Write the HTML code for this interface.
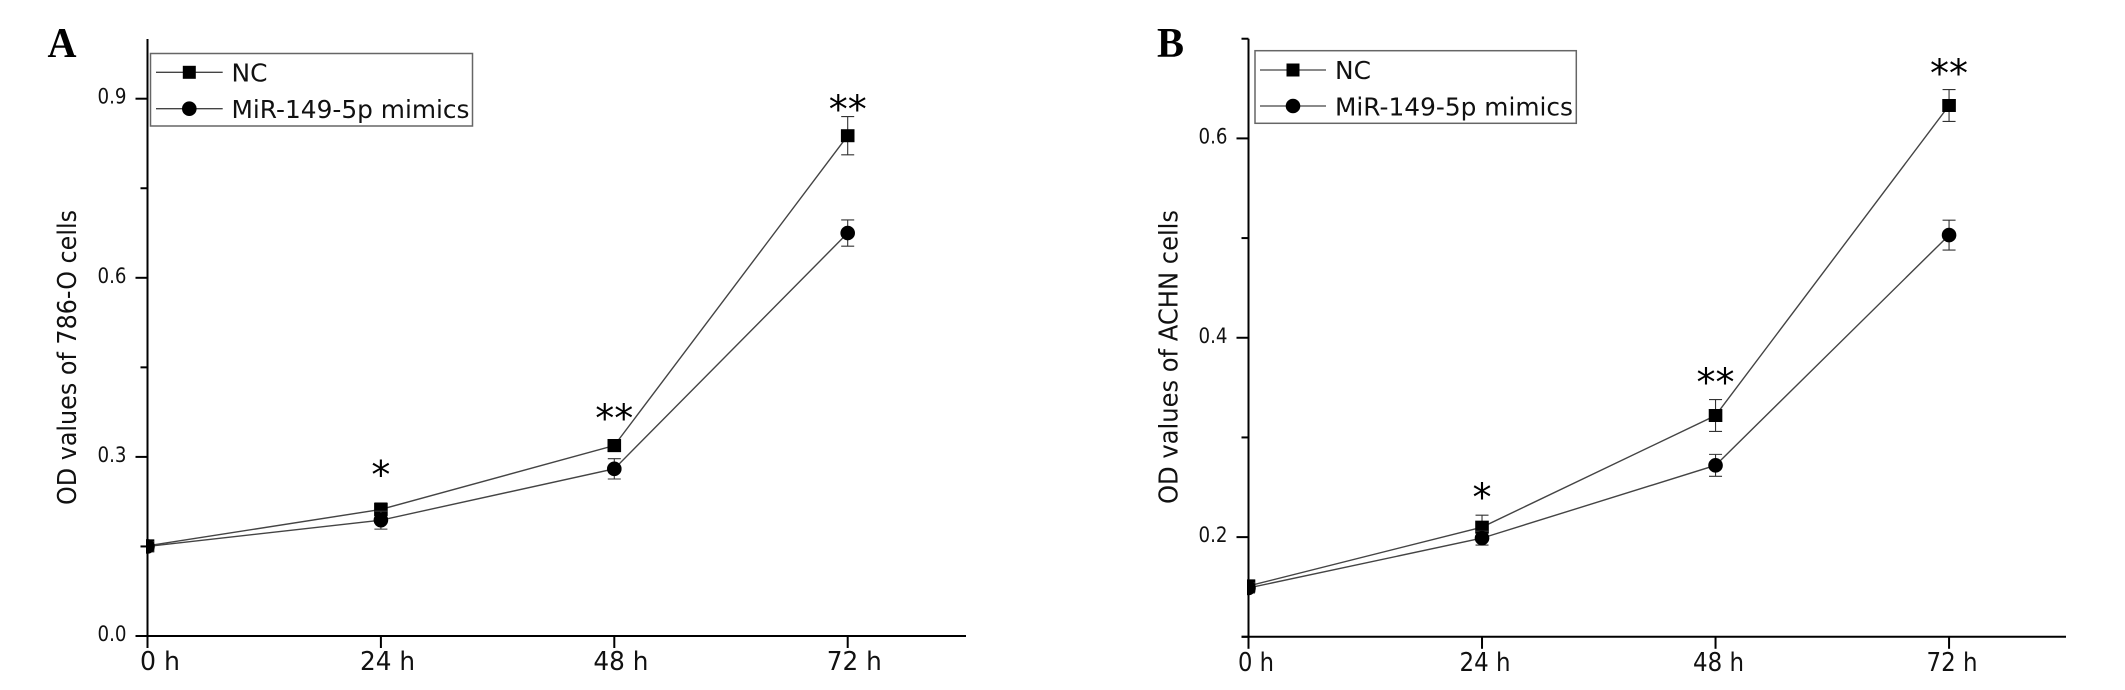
<!DOCTYPE html>
<html lang="en">
<head>
<meta charset="utf-8">
<title>OD values of 786-O and ACHN cells</title>
<style>
  html, body { margin: 0; padding: 0; background: #fff; }
  body { width: 2125px; height: 690px; overflow: hidden; }
  svg { display: block; }
  text { font-family: "DejaVu Sans", "Liberation Sans", sans-serif; fill: #111; }
</style>
</head>
<body>
<svg id="figure" xmlns="http://www.w3.org/2000/svg" width="2125" height="690" viewBox="0 0 2125 690">
  <rect x="0" y="0" width="2125" height="690" fill="#fff"/>
  <defs>
    <clipPath id="clip-a"><rect x="146" y="0" width="900" height="690"/></clipPath>
    <clipPath id="clip-b"><rect x="1247" y="0" width="878" height="690"/></clipPath>
  </defs>

  <g id="panel-a">
    <text x="47.5" y="57" textLength="29" lengthAdjust="spacingAndGlyphs" style="font-family:'Liberation Serif',serif;font-weight:bold;font-size:42px;fill:#000">A</text>
    <text transform="translate(76 357.5) rotate(-90)" text-anchor="middle" textLength="295" lengthAdjust="spacingAndGlyphs" style="font-size:26px">OD values of 786-O cells</text>
    <g id="plot-a"></g>
    <g>
      <rect x="150.5" y="53.5" width="322" height="72.5" fill="none" stroke="#666" stroke-width="1.5"/>
      <line x1="156" x2="222.7" y1="72.3" y2="72.3" stroke="#444" stroke-width="1.3"/>
      <rect x="182.8" y="65.8" width="13" height="13" fill="#000"/>
      <text x="231.5" y="81.5" textLength="36" lengthAdjust="spacingAndGlyphs" style="font-size:25px">NC</text>
      <line x1="156" x2="222.7" y1="108.7" y2="108.7" stroke="#444" stroke-width="1.3"/>
      <circle cx="189.3" cy="108.7" r="7.3" fill="#000"/>
      <text x="231.5" y="118" textLength="238" lengthAdjust="spacingAndGlyphs" style="font-size:25px">MiR-149-5p mimics</text>
    </g>
  </g>

  <g id="panel-b">
    <text x="1157" y="57" textLength="27" lengthAdjust="spacingAndGlyphs" style="font-family:'Liberation Serif',serif;font-weight:bold;font-size:42px;fill:#000">B</text>
    <text transform="translate(1177.5 357) rotate(-90)" text-anchor="middle" textLength="294" lengthAdjust="spacingAndGlyphs" style="font-size:26px">OD values of ACHN cells</text>
    <g id="plot-b"></g>
    <g>
      <rect x="1255" y="50.7" width="321.3" height="72.6" fill="none" stroke="#666" stroke-width="1.5"/>
      <line x1="1260" x2="1326" y1="70" y2="70" stroke="#444" stroke-width="1.3"/>
      <rect x="1286.5" y="63.5" width="13" height="13" fill="#000"/>
      <text x="1335" y="79" textLength="36" lengthAdjust="spacingAndGlyphs" style="font-size:25px">NC</text>
      <line x1="1260" x2="1326" y1="106" y2="106" stroke="#444" stroke-width="1.3"/>
      <circle cx="1293" cy="106" r="7.3" fill="#000"/>
      <text x="1335" y="115.5" textLength="238" lengthAdjust="spacingAndGlyphs" style="font-size:25px">MiR-149-5p mimics</text>
    </g>
  </g>
</svg>

<script>
// Shared categories
const hours = [0, 24, 48, 72];
const hourLabels = ['0 h', '24 h', '48 h', '72 h'];
const significance = ['', '*', '**', '**'];

// Panel A values (786-O cells)
const ncA = [0.151, 0.212, 0.319, 0.838];
const ncErrA = [0.009, 0.011, 0.010, 0.032];
const mimicsA = [0.150, 0.194, 0.280, 0.675];
const mimicsErrA = [0.008, 0.015, 0.017, 0.022];
const starLevelA = [null, 0.281, 0.376, 0.894];
const majorTicksA = [0.0, 0.3, 0.6, 0.9];
const minorTicksA = [0.15, 0.45, 0.75];
const tickLabelsA = ['0.0', '0.3', '0.6', '0.9'];

// Panel B values (ACHN cells)
const ncB = [0.151, 0.210, 0.322, 0.633];
const ncErrB = [0.006, 0.012, 0.016, 0.016];
const mimicsB = [0.149, 0.199, 0.272, 0.503];
const mimicsErrB = [0.005, 0.007, 0.011, 0.015];
const starLevelB = [null, 0.247, 0.362, 0.672];
const majorTicksB = [0.2, 0.4, 0.6];
const minorTicksB = [0.1, 0.3, 0.5, 0.7];
const tickLabelsB = ['0.2', '0.4', '0.6'];

const NS = 'http://www.w3.org/2000/svg';

function add(parent, tag, attrs, text) {
  const el = document.createElementNS(NS, tag);
  for (const k in attrs) el.setAttribute(k, attrs[k]);
  if (text !== undefined) el.textContent = text;
  parent.appendChild(el);
  return el;
}

function drawPanel(p) {
  const root = document.getElementById(p.id);
  const x = h => p.x0 + h * p.pxPerHour;
  const y = v => p.y0 - (v - p.vMin) * p.pxPerUnit;
  const axisStroke = { stroke: '#000', 'stroke-width': 2 };
  const n = p.id.slice(-1);

  let el = add(root, 'line', { x1: p.x0, x2: p.x0, y1: y(p.vMax), y2: p.y0, ...axisStroke });
  
  

  el = add(root, 'line', { x1: p.x0 - p.xStub, x2: p.xEnd, y1: p.y0, y2: p.y0, ...axisStroke });
  
  

  p.major.forEach((v, i) => {
    const tick = add(root, 'line', { x1: p.x0 - 12, x2: p.x0, y1: y(v), y2: y(v), ...axisStroke });
    
    
    const label = add(root, 'text', {
      x: p.x0 - 21,
      y: y(v) + 5,
      'text-anchor': 'end',
      textLength: 29,
      lengthAdjust: 'spacingAndGlyphs',
      style: 'font-size:21px'
    }, p.labels[i]);
    
    
  });

  p.minor.forEach(v => {
    const tick = add(root, 'line', { x1: p.x0 - 7, x2: p.x0, y1: y(v), y2: y(v), ...axisStroke });
    
    
  });

  hours.forEach((h, i) => {
    const tick = add(root, 'line', { x1: x(h), x2: x(h), y1: p.y0, y2: p.y0 + 12, ...axisStroke });
    
    
    const wide = i > 0;
    const label = add(root, 'text', {
      x: x(h) + (wide ? p.labelShift : p.labelShift0),
      y: p.y0 + 34,
      'text-anchor': 'middle',
      textLength: wide ? p.labelWidth : p.labelWidth0,
      lengthAdjust: 'spacingAndGlyphs',
      style: 'font-size:26px'
    }, hourLabels[i]);
    
    
  });

  [[p.nc, p.ncErr, 'nc'], [p.mimics, p.mimicsErr, 'mimics']].forEach(([vals, errs, key]) => {
    const pts = vals.map((v, i) => x(hours[i]) + ',' + y(v)).join(' ');
    const line = add(root, 'polyline', { points: pts, fill: 'none', stroke: '#444', 'stroke-width': 1.4 });
    
    

    const marks = add(root, 'g', { 'clip-path': 'url(#clip-' + n + ')' });
    
    

    vals.forEach((v, i) => {
      const cx = x(hours[i]);
      const hi = y(v + errs[i]);
      const lo = y(v - errs[i]);
      const path = 'M' + cx + ' ' + hi + 'V' + lo +
        'M' + (cx - 6.5) + ' ' + hi + 'H' + (cx + 6.5) +
        'M' + (cx - 6.5) + ' ' + lo + 'H' + (cx + 6.5);
      const err = add(marks, 'path', { d: path, fill: 'none', stroke: '#333', 'stroke-width': 1.1 });
      
      
    });

    vals.forEach((v, i) => {
      const cx = x(hours[i]);
      const cy = y(v);
      const point = key === 'nc'
        ? add(marks, 'rect', { x: cx - 6.8, y: cy - 6.5, width: 13.6, height: 13, fill: '#000' })
        : add(marks, 'circle', { cx: cx, cy: cy, r: 7.3, fill: '#000' });
      
      
    });
  });

  p.stars.forEach((level, i) => {
    if (level === null) return;
    const star = add(root, 'text', {
      x: x(hours[i]),
      y: y(level) + 20,
      'text-anchor': 'middle',
      style: "font-family:'DejaVu Sans',sans-serif;font-size:38px;fill:#000"
    }, significance[i]);
    
    
  });
}

drawPanel({
  id: 'plot-a', x0: 147.5, pxPerHour: 9.725, xEnd: 966, xStub: 12,
  y0: 636, vMin: 0, vMax: 1, pxPerUnit: 597,
  major: majorTicksA, minor: minorTicksA, labels: tickLabelsA,
  nc: ncA, ncErr: ncErrA, mimics: mimicsA, mimicsErr: mimicsErrA, stars: starLevelA,
  labelShift: 6.6, labelShift0: 12.5, labelWidth: 55, labelWidth0: 40
});

drawPanel({
  id: 'plot-b', x0: 1248.5, pxPerHour: 9.73, xEnd: 2066, xStub: 7,
  y0: 636.8, vMin: 0.1, vMax: 0.7, pxPerUnit: 996.8,
  major: majorTicksB, minor: minorTicksB, labels: tickLabelsB,
  nc: ncB, ncErr: ncErrB, mimics: mimicsB, mimicsErr: mimicsErrB, stars: starLevelB,
  labelShift: 3, labelShift0: 7.5, labelWidth: 51, labelWidth0: 36
});
</script>
</body>
</html>
